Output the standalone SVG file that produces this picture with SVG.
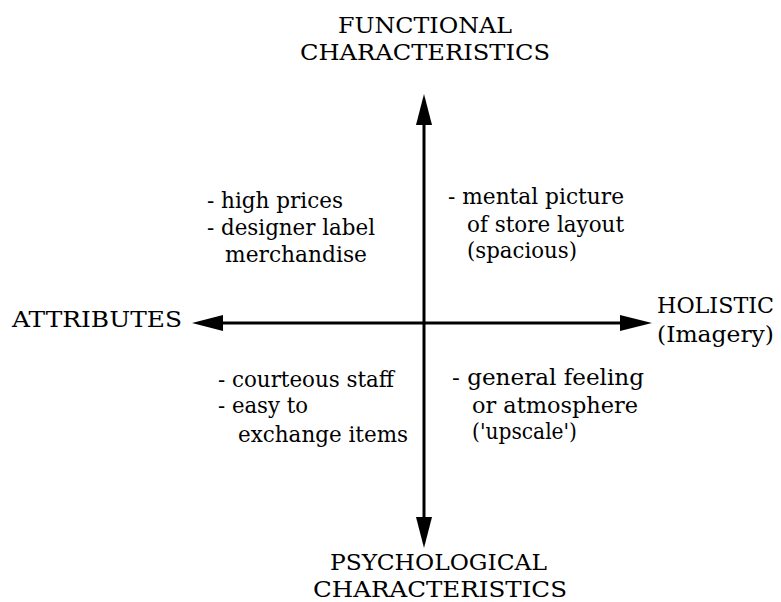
<svg xmlns="http://www.w3.org/2000/svg" width="781" height="602" viewBox="0 0 781 602">
  <style>
    .lbl { font-family: "DejaVu Serif", "Liberation Serif", serif; font-size: 23px; fill: #000; }
    .txt { font-family: "DejaVu Serif", "Liberation Serif", serif; font-size: 23px; fill: #000; }
    .axis { stroke: #000; stroke-width: 3; fill: none; }
    .head { fill: #000; stroke: none; }
  </style>
  <rect width="781" height="602" fill="#fff"/>

  <!-- axes -->
  <g id="connectors">
    <line class="axis" x1="424" y1="124" x2="424" y2="518"/>
    <line class="axis" x1="222" y1="323" x2="621" y2="323"/>
    <polygon class="head" points="424,94 416,125 432,125"/>
    <polygon class="head" points="424,548 416,517 432,517"/>
    <polygon class="head" points="192,323 223,315 223,331"/>
    <polygon class="head" points="652,323 620,315 620,331"/>
  </g>

  <!-- axis end labels -->
  <g id="functional">
    <text class="lbl" x="338" y="33" textLength="174" lengthAdjust="spacingAndGlyphs">FUNCTIONAL</text>
    <text class="lbl" x="300" y="60" textLength="250" lengthAdjust="spacingAndGlyphs">CHARACTERISTICS</text>
  </g>
  <g id="psychological">
    <text class="lbl" x="330" y="570" textLength="217" lengthAdjust="spacingAndGlyphs">PSYCHOLOGICAL</text>
    <text class="lbl" x="313" y="597" textLength="254" lengthAdjust="spacingAndGlyphs">CHARACTERISTICS</text>
  </g>
  <g id="attributes">
    <text class="lbl" x="12" y="327" textLength="170" lengthAdjust="spacingAndGlyphs">ATTRIBUTES</text>
  </g>
  <g id="holistic">
    <text class="lbl" x="657" y="313" textLength="117" lengthAdjust="spacingAndGlyphs">HOLISTIC</text>
    <text class="lbl" x="657" y="342" textLength="117" lengthAdjust="spacingAndGlyphs">(Imagery)</text>
  </g>

  <!-- quadrant notes -->
  <g id="quadrant-top-left">
    <text class="txt" x="207" y="208" textLength="136" lengthAdjust="spacingAndGlyphs">- high prices</text>
    <text class="txt" x="207" y="235" textLength="168" lengthAdjust="spacingAndGlyphs">- designer label</text>
    <text class="txt" x="225" y="262" textLength="142" lengthAdjust="spacingAndGlyphs">merchandise</text>
  </g>
  <g id="quadrant-top-right">
    <text class="txt" x="448" y="204" textLength="176" lengthAdjust="spacingAndGlyphs">- mental picture</text>
    <text class="txt" x="467" y="232" textLength="157" lengthAdjust="spacingAndGlyphs">of store layout</text>
    <text class="txt" x="467" y="258" textLength="110" lengthAdjust="spacingAndGlyphs">(spacious)</text>
  </g>
  <g id="quadrant-bottom-left">
    <text class="txt" x="218" y="387" textLength="176" lengthAdjust="spacingAndGlyphs">- courteous staff</text>
    <text class="txt" x="218" y="413" textLength="90" lengthAdjust="spacingAndGlyphs">- easy to</text>
    <text class="txt" x="238" y="442" textLength="170" lengthAdjust="spacingAndGlyphs">exchange items</text>
  </g>
  <g id="quadrant-bottom-right">
    <text class="txt" x="452" y="385" textLength="192" lengthAdjust="spacingAndGlyphs">- general feeling</text>
    <text class="txt" x="472" y="413" textLength="166" lengthAdjust="spacingAndGlyphs">or atmosphere</text>
    <text class="txt" x="472" y="439" textLength="105" lengthAdjust="spacingAndGlyphs">('upscale')</text>
  </g>
</svg>
